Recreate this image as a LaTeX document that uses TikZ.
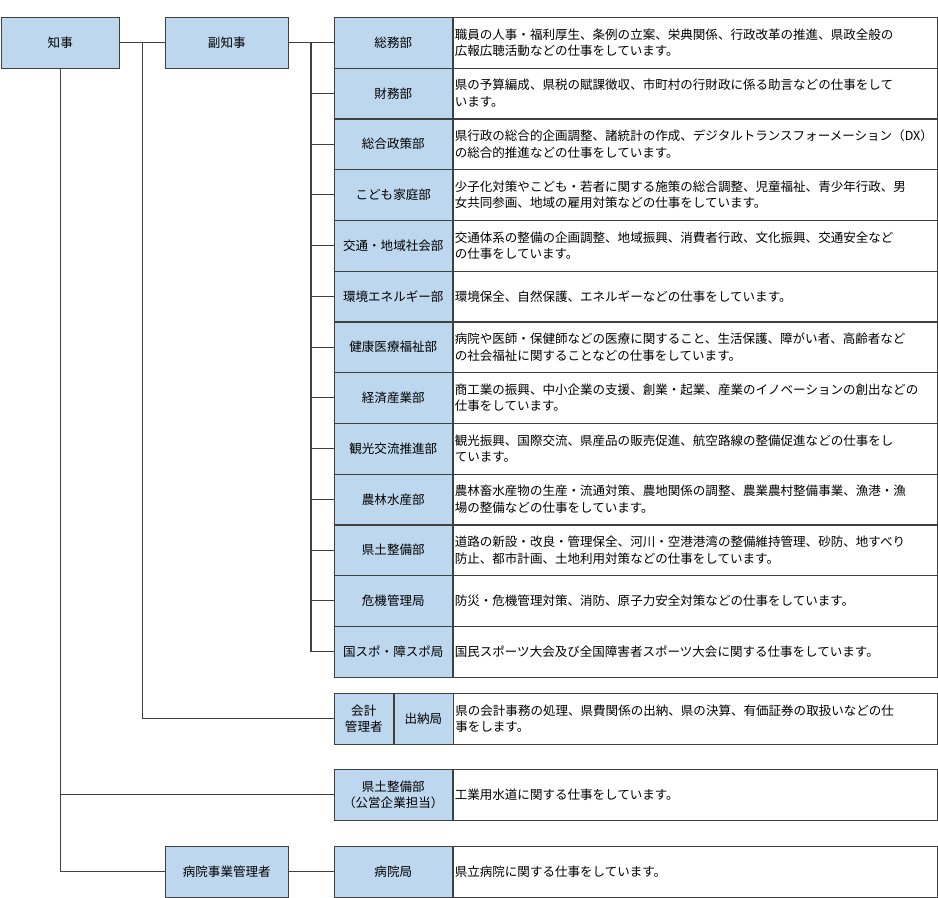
\documentclass[tikz,border=0pt]{standalone}
\usepackage{fontspec}
\setmainfont{Noto Sans CJK JP}
\usetikzlibrary{positioning,calc}
\definecolor{orgblue}{RGB}{189,215,238}
\definecolor{orgline}{RGB}{64,64,64}
\tikzset{
  post/.style={draw=orgline, fill=orgblue, anchor=north west, inner sep=1pt,
    minimum height=50.7*0.75pt, align=center, font=\fontsize{9.4}{12}\selectfont},
  duty/.style={draw=orgline, fill=white, anchor=north west, inner sep=1pt,
    minimum width=484*0.75pt, minimum height=50.7*0.75pt, text width=480*0.75pt,
    align=left, font=\fontsize{9.4}{12.5}\selectfont},
  link/.style={draw=orgline, line width=0.8pt}
}
\begin{document}
\begin{tikzpicture}[x=0.75pt, y=-0.75pt]
    \useasboundingbox (0,0) rectangle (938,897);
    % Top posts
    \node[post, minimum width=118*0.75pt] (chiji) at (1,17) {知事};
    \node[post, minimum width=123*0.75pt] (fuku) at (165,17) {副知事};

    % Departments under the vice-governor
    \foreach \i/\name/\desc in {
      0/総務部/{職員の人事・福利厚生、条例の立案、栄典関係、行政改革の推進、県政全般の\\広報広聴活動などの仕事をしています。},
      1/財務部/{県の予算編成、県税の賦課徴収、市町村の行財政に係る助言などの仕事をして\\います。},
      2/総合政策部/{県行政の総合的企画調整、諸統計の作成、デジタルトランスフォーメーション（DX）\\の総合的推進などの仕事をしています。},
      3/こども家庭部/{少子化対策やこども・若者に関する施策の総合調整、児童福祉、青少年行政、男\\女共同参画、地域の雇用対策などの仕事をしています。},
      4/交通・地域社会部/{交通体系の整備の企画調整、地域振興、消費者行政、文化振興、交通安全など\\の仕事をしています。},
      5/環境エネルギー部/{環境保全、自然保護、エネルギーなどの仕事をしています。},
      6/健康医療福祉部/{病院や医師・保健師などの医療に関すること、生活保護、障がい者、高齢者など\\の社会福祉に関することなどの仕事をしています。},
      7/経済産業部/{商工業の振興、中小企業の支援、創業・起業、産業のイノベーションの創出などの\\仕事をしています。},
      8/観光交流推進部/{観光振興、国際交流、県産品の販売促進、航空路線の整備促進などの仕事をし\\ています。},
      9/農林水産部/{農林畜水産物の生産・流通対策、農地関係の調整、農業農村整備事業、漁港・漁\\場の整備などの仕事をしています。},
      10/県土整備部/{道路の新設・改良・管理保全、河川・空港港湾の整備維持管理、砂防、地すべり\\防止、都市計画、土地利用対策などの仕事をしています。},
      11/危機管理局/{防災・危機管理対策、消防、原子力安全対策などの仕事をしています。},
      12/国スポ・障スポ局/{国民スポーツ大会及び全国障害者スポーツ大会に関する仕事をしています。}} {
        \node[post, minimum width=118*0.75pt] (dept\i) at (334,17+50.75*\i) {\name};
        \node[duty] (desc\i) at (dept\i.north east) {\desc};
        \draw[link] (dept\i.west) -- ++(-23,0);
    }
    \draw[link] (fuku.east) -- (dept0.west);
    \draw[link] (dept0.west) ++(-23,0) |- (dept12.west);

    % Accounting
    \node[post, minimum width=59*0.75pt] (kaikei) at (334,693) {会計\\管理者};
    \node[post, minimum width=59*0.75pt] (suitou) at (kaikei.north east) {出納局};
    \node[duty, minimum height=50.7*0.75pt] (descK) at (suitou.north east) {県の会計事務の処理、県費関係の出納、県の決算、有価証券の取扱いなどの仕\\事をします。};

    % Public enterprise
    \node[post, minimum width=118*0.75pt] (kouei) at (334,769) {県土整備部\\（公営企業担当）};
    \node[duty] (descP) at (kouei.north east) {工業用水道に関する仕事をしています。};

    % Hospitals
    \node[post, minimum width=123*0.75pt] (byouin) at (165,846) {病院事業管理者};
    \node[post, minimum width=118*0.75pt] (byouinkyoku) at (334,846) {病院局};
    \node[duty] (descH) at (byouinkyoku.north east) {県立病院に関する仕事をしています。};

    % Connectors from the governor
    \coordinate (split) at ($(chiji.east)!0.5!(fuku.west)$);
    \draw[link] (chiji.east) -- (fuku.west);
    \draw[link] (split) |- (kaikei.west);
    \draw[link] (chiji.south) |- (byouin.west);
    \draw[link] (chiji.south |- kouei.west) -- (kouei.west);
    \draw[link] (byouin.east) -- (byouinkyoku.west);
\end{tikzpicture}
\end{document}
